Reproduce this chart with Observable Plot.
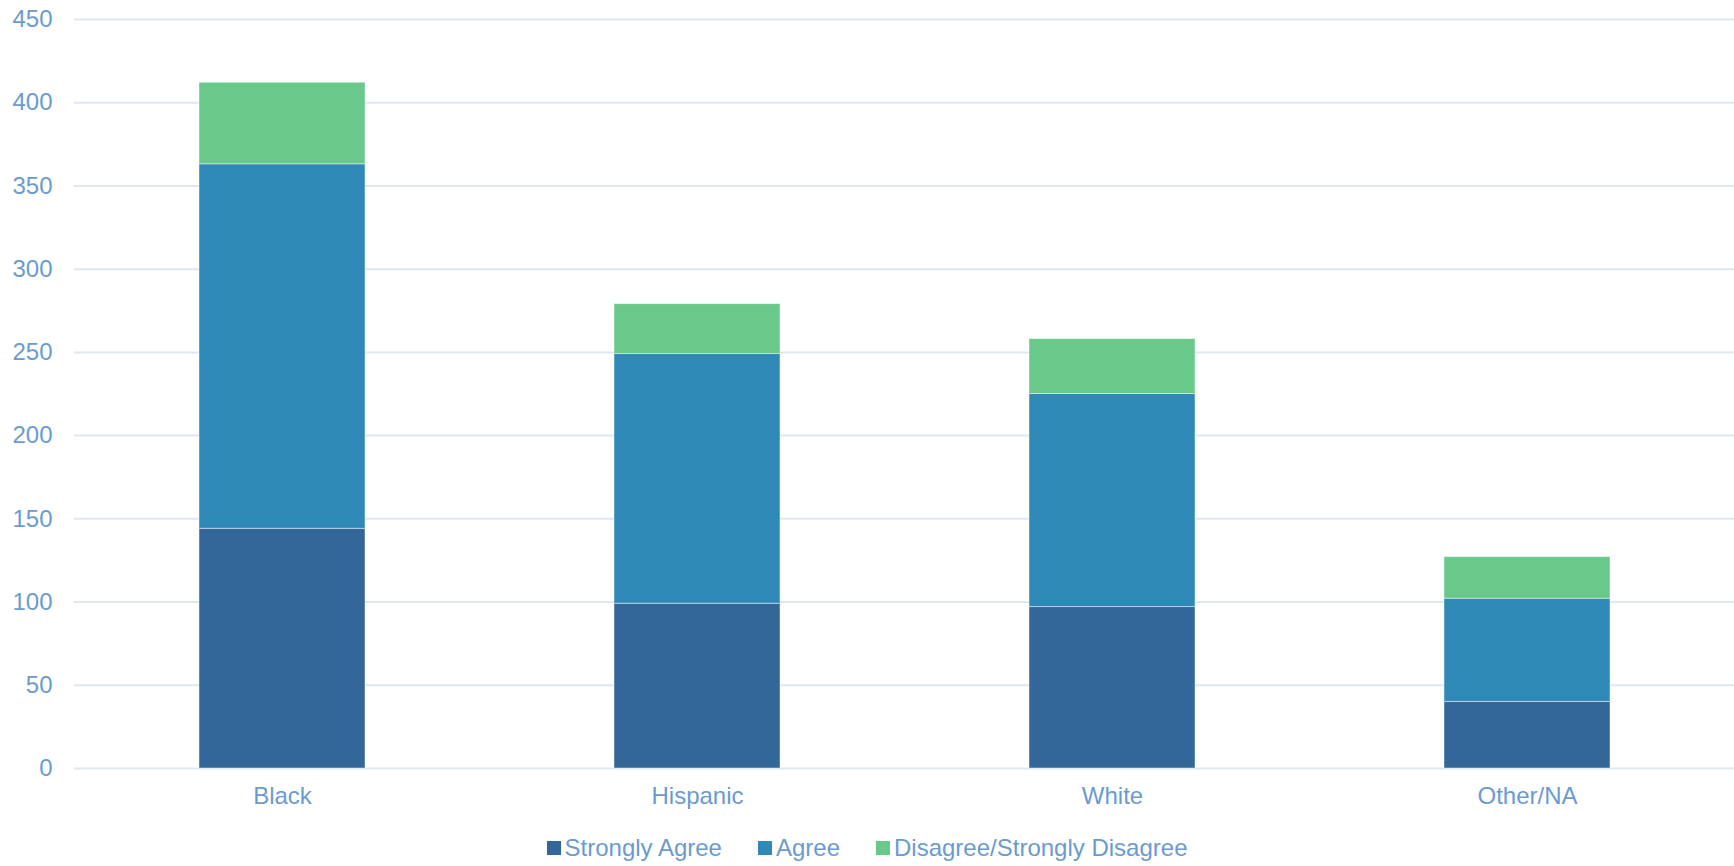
<!DOCTYPE html>
<html>
<head>
<meta charset="utf-8">
<script src="https://cdn.jsdelivr.net/npm/d3@7"></script>
<script src="https://cdn.jsdelivr.net/npm/@observablehq/plot@0.6"></script>
<style>
  html, body { margin: 0; padding: 0; background: #fff; }
  body { width: 1734px; height: 866px; overflow: hidden; font-family: "Liberation Sans", Arial, sans-serif; }
  #legend { display: flex; justify-content: center; align-items: center; gap: 36px; margin-top: 14px; font-size: 24px; color: #6a9bcf; }
  #legend .item { display: flex; align-items: center; }
  #legend .sw { width: 14px; height: 14px; margin-right: 4px; display: inline-block; }
</style>
</head>
<body>
<div id="chart"></div>
<div id="legend"></div>
<script>
const categories = ["Black", "Hispanic", "White", "Other/NA"];
const series = ["Strongly Agree", "Agree", "Disagree/Strongly Disagree"];
const stronglyAgree = [144, 99, 97, 40];
const agree = [219, 150, 128, 62];
const disagree = [49, 30, 33, 25];
const colors = ["#336699", "#2e89b6", "#68c98a"];
const yTicks = [0, 50, 100, 150, 200, 250, 300, 350, 400, 450];

const valuesBySeries = [stronglyAgree, agree, disagree];
const data = [];
series.forEach((s, si) => {
  categories.forEach((c, ci) => data.push({category: c, series: s, value: valuesBySeries[si][ci]}));
});

const textColor = "#6a9bcf";
const chart = Plot.plot({
  width: 1734,
  height: 820,
  marginTop: 19,
  marginBottom: 52,
  marginLeft: 74,
  marginRight: 0,
  style: {fontFamily: "'Liberation Sans', Arial, sans-serif", fontSize: "24px", color: textColor, background: "#fff"},
  x: {domain: categories, paddingInner: 0.6, paddingOuter: 0.3, label: null},
  y: {domain: [0, 450], label: null},
  color: {domain: series, range: colors},
  marks: [
    Plot.gridY(yTicks, {stroke: "#dde7f2", strokeOpacity: 1, strokeWidth: 2}),
    Plot.barY(data, {x: "category", y: "value", fill: "series", stroke: "#ffffff", strokeOpacity: 0.45, strokeWidth: 1}),
    Plot.axisY(yTicks, {tickSize: 0, tickPadding: 22, label: null, fill: textColor, fontSize: 24}),
    Plot.axisX({tickSize: 0, tickPadding: 18, label: null, fill: textColor, fontSize: 24})
  ]
});
document.getElementById("chart").appendChild(chart);

const legend = document.getElementById("legend");
series.forEach((s, i) => {
  const item = document.createElement("span");
  item.className = "item";
  const sw = document.createElement("span");
  sw.className = "sw";
  sw.style.background = colors[i];
  item.appendChild(sw);
  item.appendChild(document.createTextNode(s));
  legend.appendChild(item);
});
</script>
</body>
</html>
